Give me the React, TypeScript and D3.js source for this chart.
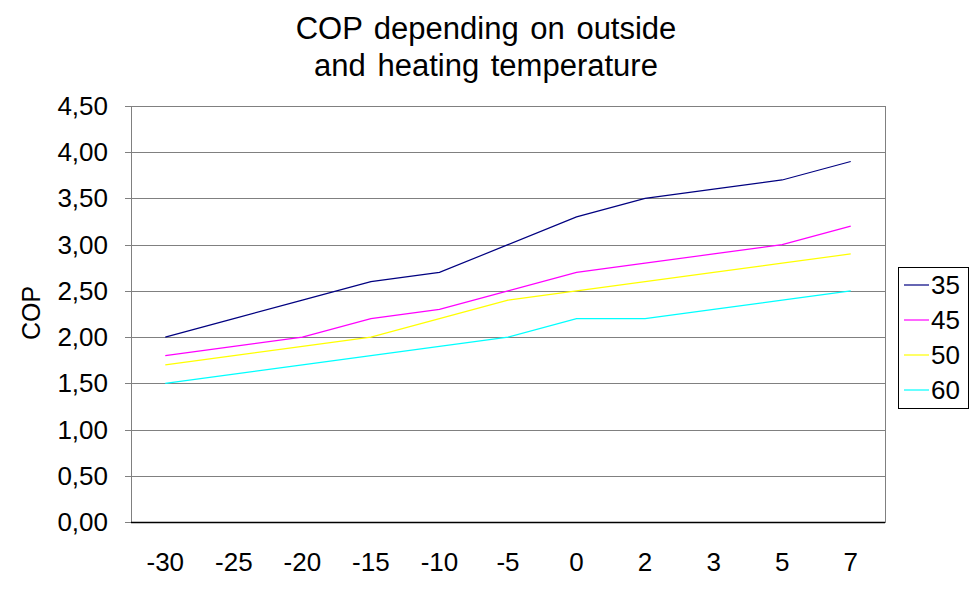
import React from "react";
import * as d3 from "d3";

const categories = ["-30", "-25", "-20", "-15", "-10", "-5", "0", "2", "3", "5", "7"];
const seriesNames = ["35", "45", "50", "60"];
const s35 = [2.0, 2.2, 2.4, 2.6, 2.7, 3.0, 3.3, 3.5, 3.6, 3.7, 3.9];
const s45 = [1.8, 1.9, 2.0, 2.2, 2.3, 2.5, 2.7, 2.8, 2.9, 3.0, 3.2];
const s50 = [1.7, 1.8, 1.9, 2.0, 2.2, 2.4, 2.5, 2.6, 2.7, 2.8, 2.9];
const s60 = [1.5, 1.6, 1.7, 1.8, 1.9, 2.0, 2.2, 2.2, 2.3, 2.4, 2.5];
const yTicks = [0, 0.5, 1, 1.5, 2, 2.5, 3, 3.5, 4, 4.5];
const colors = ["#000080", "#FF00FF", "#FFFF00", "#00FFFF"];

export default function App() {
  const W = 974, H = 591;
  const left = 131, right = 885, top = 106, bottom = 522;
  const x = d3.scaleBand<string>().domain(categories).range([left, right]);
  const y = d3.scaleLinear().domain([0, 4.5]).range([bottom, top]);
  const series = [s35, s45, s50, s60];
  const line = d3
    .line<number>()
    .x((_, i) => (x(categories[i]) as number) + x.bandwidth() / 2)
    .y((d) => y(d));
  const font = "'Liberation Sans', Arial, sans-serif";
  return (
    <svg
      width={W}
      height={H}
      style={{ position: "absolute", left: 0, top: 0, background: "#fff" }}
      fontFamily={font}
    >
      <text x={486} y={39} textAnchor="middle" fontSize={31} wordSpacing={3}>
        COP depending on outside
      </text>
      <text x={486} y={76} textAnchor="middle" fontSize={31} wordSpacing={3}>
        and heating temperature
      </text>
      <rect x={left + 0.5} y={top + 0.5} width={right - left} height={bottom - top} fill="none" stroke="#808080" strokeWidth={1} />
      {yTicks.map((t) => (
        <g key={t}>
          <line x1={left} x2={right} y1={Math.round(y(t)) + 0.5} y2={Math.round(y(t)) + 0.5} stroke="#808080" strokeWidth={1} />
          <line x1={left - 6} x2={left} y1={Math.round(y(t)) + 0.5} y2={Math.round(y(t)) + 0.5} stroke="#808080" strokeWidth={1} />
          <text x={108} y={y(t) + 9} textAnchor="end" fontSize={26}>
            {t.toFixed(2).replace(".", ",")}
          </text>
        </g>
      ))}
      <line x1={left} x2={right} y1={bottom + 0.5} y2={bottom + 0.5} stroke="#000" strokeWidth={1.3} />
      {categories.map((c) => (
        <text key={c} x={(x(c) as number) + x.bandwidth() / 2} y={571} textAnchor="middle" fontSize={26}>
          {c}
        </text>
      ))}
      <text transform={`translate(40,313) rotate(-90)`} textAnchor="middle" fontSize={25}>
        COP
      </text>
      {series.map((s, i) => (
        <path key={i} d={line(s) || ""} fill="none" stroke={colors[i]} strokeWidth={1.2} />
      ))}
      <rect x={898.5} y={267.5} width={70} height={141} fill="#fff" stroke="#000" strokeWidth={1} />
      {seriesNames.map((n, i) => {
        const ly = 285 + i * 35;
        return (
          <g key={n}>
            <line x1={904} x2={929} y1={ly} y2={ly} stroke={colors[i]} strokeWidth={1.2} />
            <text x={931} y={ly + 9} fontSize={26}>
              {n}
            </text>
          </g>
        );
      })}
    </svg>
  );
}
